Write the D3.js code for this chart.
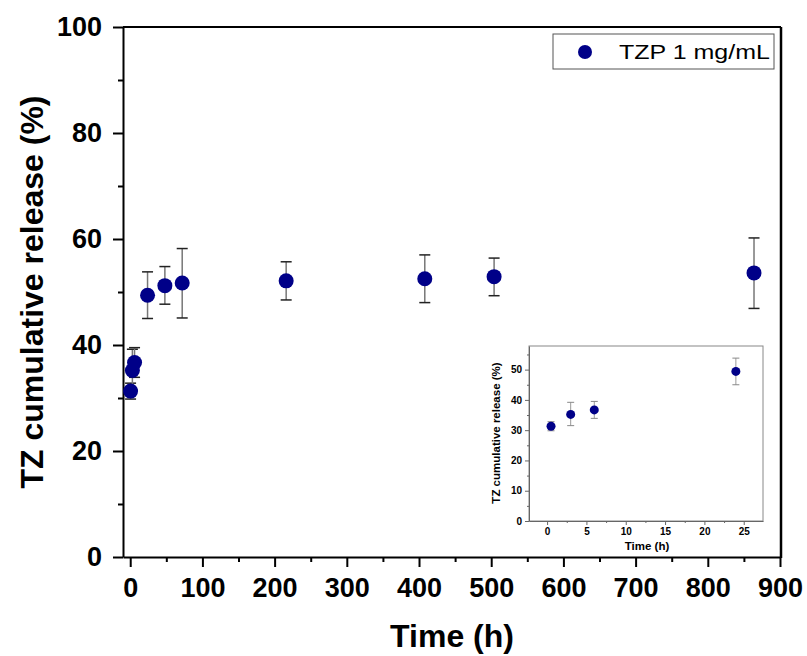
<!DOCTYPE html>
<html>
<head>
<meta charset="utf-8">
<script src="https://cdn.jsdelivr.net/npm/d3@7/dist/d3.min.js"></script>
<style>
  body { margin: 0; background: #fff; }
  text { font-family: Arial, "Liberation Sans", sans-serif; }
</style>
</head>
<body>
<svg id="chart" width="807" height="656"></svg>
<script>
// release data (h, %)
const timeH    = [0.5, 3, 6, 24, 48, 72, 216, 408, 504, 864];
const release  = [31.3, 35.2, 36.7, 49.4, 51.2, 51.7, 52.1, 52.5, 52.9, 53.6];
const errLow   = [29.8, 31.5, 33.9, 45.0, 47.7, 45.1, 48.5, 48.0, 49.3, 46.9];
const errHigh  = [32.8, 39.2, 39.5, 53.8, 54.8, 58.2, 55.7, 57.0, 56.4, 60.2];
const seriesName = "TZP 1 mg/mL";

const xTicks = [0, 100, 200, 300, 400, 500, 600, 700, 800, 900];
const xMinor = [50, 150, 250, 350, 450, 550, 650, 750, 850];
const yTicks = [0, 20, 40, 60, 80, 100];
const yMinor = [10, 30, 50, 70, 90];

const insetMaxTime = 24;
const insetXTicks = [0, 5, 10, 15, 20, 25];
const insetXMinor = [2.5, 7.5, 12.5, 17.5, 22.5];
const insetYTicks = [0, 10, 20, 30, 40, 50];
const insetYMinor = [5, 15, 25, 35, 45, 55];

const data = timeH.map((t, i) => ({ t, v: release[i], lo: errLow[i], hi: errHigh[i] }));
const insetData = data.filter(d => d.t <= insetMaxTime);

const navy = "#000088";
const FONT = "Arial, 'Liberation Sans', sans-serif";

const svg = d3.select("#chart");
svg.append("rect").attr("width", 807).attr("height", 656).attr("fill", "#fff");

// ---------- main plot ----------
const x = d3.scaleLinear().domain([-10, 900]).range([123, 780]);
const y = d3.scaleLinear().domain([0, 100]).range([557, 27]);

const g = svg.append("g");

// minor ticks
g.append("g").attr("transform", "translate(0,557)")
  .call(d3.axisBottom(x).tickValues(xMinor).tickSize(5).tickFormat(""))
  .call(a => a.select(".domain").remove())
  .selectAll("line").attr("stroke-width", 2);
g.append("g").attr("transform", "translate(123,0)")
  .call(d3.axisLeft(y).tickValues(yMinor).tickSize(5).tickFormat(""))
  .call(a => a.select(".domain").remove())
  .selectAll("line").attr("stroke-width", 2);

// major axes
const xAxis = g.append("g").attr("transform", "translate(0,557)")
  .call(d3.axisBottom(x).tickValues(xTicks).tickSize(10).tickPadding(11).tickSizeOuter(0));
const yAxis = g.append("g").attr("transform", "translate(123,0)")
  .call(d3.axisLeft(y).tickValues(yTicks).tickSize(10).tickPadding(11).tickSizeOuter(0));
[xAxis, yAxis].forEach(a => {
  a.select(".domain").attr("stroke-width", 2);
  a.selectAll("line").attr("stroke-width", 2);
  a.selectAll("text").attr("font-size", 27).attr("font-weight", "bold").attr("fill", "#000")
    .attr("font-family", FONT);
});

// top and right frame
g.append("line").attr("x1", 123).attr("x2", 781).attr("y1", 27).attr("y2", 27)
  .attr("stroke", "#000").attr("stroke-width", 2);
g.append("line").attr("x1", 781).attr("x2", 781).attr("y1", 27).attr("y2", 558)
  .attr("stroke", "#000").attr("stroke-width", 2.5);

// axis titles
g.append("text").attr("text-anchor", "middle").attr("font-weight", "bold").attr("font-size", 32)
  .attr("x", 452).attr("y", 647).text("Time (h)");
g.append("text").attr("text-anchor", "middle").attr("font-weight", "bold").attr("font-size", 32)
  .attr("transform", "translate(43,292) rotate(-90)").text("TZ cumulative release (%)");

// error bars + points
function drawPoints(parent, sx, sy, rows, r, cap, stemColor, capColor, sw) {
  const eb = parent.append("g").selectAll("g").data(rows).join("g");
  eb.append("line").attr("x1", d => sx(d.t)).attr("x2", d => sx(d.t))
    .attr("y1", d => sy(d.lo)).attr("y2", d => sy(d.hi))
    .attr("stroke", stemColor).attr("stroke-width", sw);
  eb.append("line").attr("x1", d => sx(d.t) - cap).attr("x2", d => sx(d.t) + cap)
    .attr("y1", d => sy(d.hi)).attr("y2", d => sy(d.hi))
    .attr("stroke", capColor).attr("stroke-width", sw);
  eb.append("line").attr("x1", d => sx(d.t) - cap).attr("x2", d => sx(d.t) + cap)
    .attr("y1", d => sy(d.lo)).attr("y2", d => sy(d.lo))
    .attr("stroke", capColor).attr("stroke-width", sw);
  parent.append("g").selectAll("circle").data(rows).join("circle")
    .attr("cx", d => sx(d.t)).attr("cy", d => sy(d.v)).attr("r", r)
    .attr("fill", navy);
}
drawPoints(g, x, y, data, 7.5, 5.5, "#777", "#222", 1.5);

// legend
const lg = g.append("g");
lg.append("rect").attr("x", 553).attr("y", 34).attr("width", 221).attr("height", 35)
  .attr("fill", "#fff").attr("stroke", "#555").attr("stroke-width", 1);
lg.append("circle").attr("cx", 585).attr("cy", 52).attr("r", 7).attr("fill", navy);
lg.append("text").attr("font-size", 20).attr("fill", "#000")
  .attr("transform", "translate(619,59) scale(1.25,1)").text(seriesName);

// ---------- inset ----------
const ix = d3.scaleLinear().domain([-2.3, 27.45]).range([529, 763]);
const iy = d3.scaleLinear().domain([0, 57.8]).range([521, 346]);
const ig = svg.append("g");

ig.append("rect").attr("x", 529).attr("y", 346).attr("width", 234).attr("height", 175)
  .attr("fill", "#fff").attr("stroke", "#888").attr("stroke-width", 1);

ig.append("g").attr("transform", "translate(0,521)")
  .call(d3.axisBottom(ix).tickValues(insetXMinor).tickSize(2).tickFormat(""))
  .call(a => a.select(".domain").remove())
  .selectAll("line").attr("stroke", "#666");
ig.append("g").attr("transform", "translate(529,0)")
  .call(d3.axisLeft(iy).tickValues(insetYMinor).tickSize(2).tickFormat(""))
  .call(a => a.select(".domain").remove())
  .selectAll("line").attr("stroke", "#666");

const ixAxis = ig.append("g").attr("transform", "translate(0,521)")
  .call(d3.axisBottom(ix).tickValues(insetXTicks).tickSize(4).tickPadding(3).tickSizeOuter(0));
const iyAxis = ig.append("g").attr("transform", "translate(529,0)")
  .call(d3.axisLeft(iy).tickValues(insetYTicks).tickSize(4).tickPadding(3).tickSizeOuter(0));
[ixAxis, iyAxis].forEach(a => {
  a.select(".domain").attr("stroke", "#666");
  a.selectAll("line").attr("stroke", "#666");
  a.selectAll("text").attr("font-size", 10).attr("font-weight", "bold").attr("fill", "#000")
    .attr("font-family", FONT);
});

ig.append("text").attr("text-anchor", "middle").attr("font-weight", "bold").attr("font-size", 11.5)
  .attr("x", 647).attr("y", 550).text("Time (h)");
ig.append("text").attr("text-anchor", "middle").attr("font-weight", "bold").attr("font-size", 11.5)
  .attr("transform", "translate(500,433) rotate(-90)").text("TZ cumulative release (%)");

drawPoints(ig, ix, iy, insetData, 4.5, 3.5, "#999", "#888", 1);
</script>
</body>
</html>
